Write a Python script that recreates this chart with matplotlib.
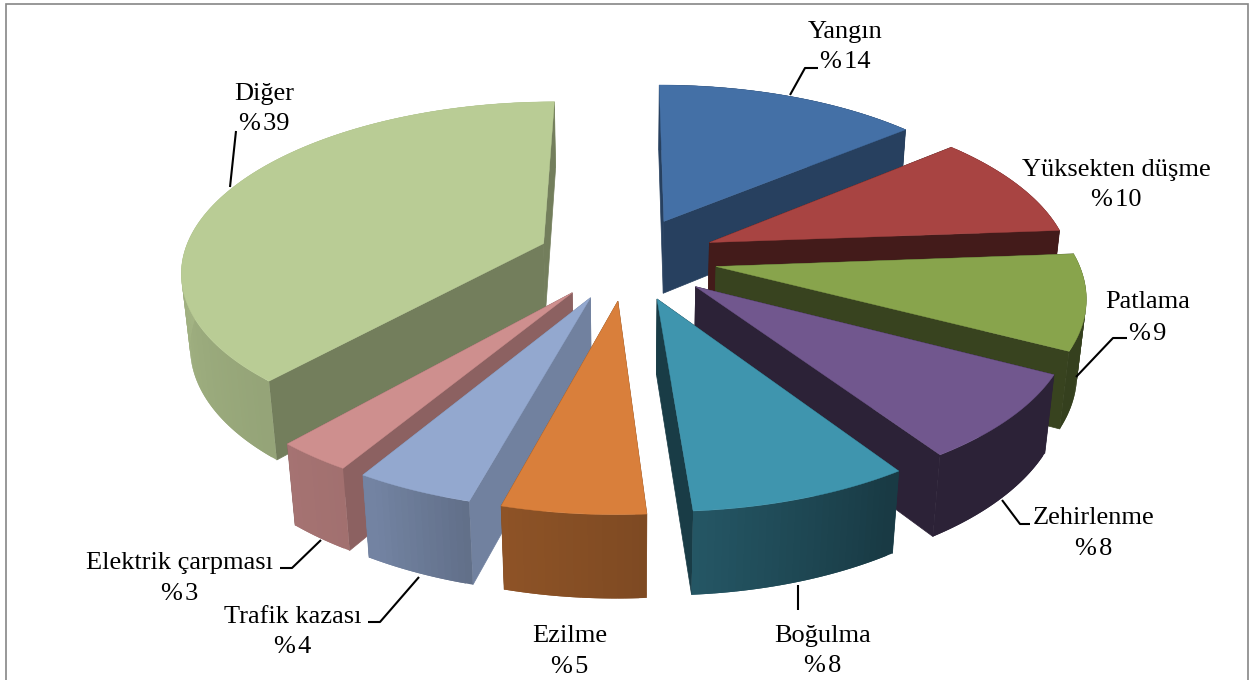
#!/usr/bin/env python3
# -*- coding: utf-8 -*-
import numpy as np
import matplotlib
matplotlib.use("Agg")
import matplotlib.pyplot as plt
from matplotlib.colors import to_rgb
from matplotlib.patches import Polygon, Rectangle

categories = ["Yangın", "Yüksekten düşme", "Patlama", "Zehirlenme", "Boğulma",
              "Ezilme", "Trafik kazası", "Elektrik çarpması", "Diğer"]
# slice sizes, the labels show them rounded
values = [13.9, 9.9, 8.9, 8, 8.2, 5.3, 4.4, 2.85, 38.55]

colors = ["#4470a6", "#a84442", "#88a44c", "#71578e", "#3f95ae",
          "#d97f3b", "#93a8cf", "#ce8f8e", "#b9cc95"]
cut_shade = [0.57, 0.40, 0.41, 0.39, 0.40, 0.60, 0.77, 0.68, 0.62]

# label centres, pixels: x, y of name, y of percent
label_pos = [(845, 32, 62), (1116, 170, 200), (1148, 302, 334), (1094, 518, 549),
             (823, 636, 666), (570, 636, 667), (293, 617, 647), (180, 563, 594),
             (264, 94, 124)]
leaders = [[(790, 95), (805, 68), (818, 68)],
           [(1076, 377), (1113, 338), (1127, 338)],
           [(1002, 500), (1020, 524), (1030, 524)],
           [(798, 585), (798, 610)],
           [(419, 577), (380, 622), (368, 622)],
           [(321, 540), (292, 568), (280, 568)],
           [(230, 187), (236, 131)]]

# projection of the tilted pie
cx, cy = 627, 258
rx, ry = 361, 167
height = 75
k_y, k_z = 0.15, 0.02
explode = 0.25


def project(x, y, z):
    s = 1 / (1 + k_y * y - k_z * z)
    return np.column_stack([cx + rx * x * s, cy - s * (ry * y + height * z)])


def wall_shade(t):
    return np.interp(t, [90, 148, 176, 194, 209, 220, 280],
                     [0.39, 0.39, 0.58, 0.65, 0.78, 0.80, 0.90])


def shaded(color, f):
    return tuple(c * f for c in to_rgb(color))


def draw_strips(ax, col, t, arc_x, arc_y, keep):
    # each strip runs under the next one so no seams show
    for j in range(len(t) - 1):
        m = (t[j] + t[j + 1]) / 2
        if not keep(m):
            continue
        n = min(j + 2, len(t) - 1)
        xs = np.array([arc_x[j], arc_x[n], arc_x[n], arc_x[j]])
        ys = np.array([arc_y[j], arc_y[n], arc_y[n], arc_y[j]])
        zs = np.array([0, 0, -1, -1])
        c = shaded(col, wall_shade(m))
        ax.add_patch(Polygon(project(xs, ys, zs), fc=c, ec="none"))


def main():
    fig = plt.figure(figsize=(12.54, 6.8), dpi=100)
    ax = fig.add_axes([0, 0, 1, 1])
    ax.set_xlim(0, 1254)
    ax.set_ylim(680, 0)
    ax.axis("off")

    ax.add_patch(Rectangle((5.5, 3.5), 1242.5, 720, fc="white", ec="#868686", lw=1.2))

    edges = np.cumsum([0] + values) / sum(values) * 360
    slices = []
    for i in range(len(values)):
        t0, t1 = edges[i], edges[i + 1]
        mid = np.radians((t0 + t1) / 2)
        ox, oy = explode * np.sin(mid), explode * np.cos(mid)
        slices.append((np.cos(mid), i, t0, t1, ox, oy))

    # back slices first
    for _, i, t0, t1, ox, oy in sorted(slices, reverse=True):
        col = colors[i]
        t = np.linspace(t0, t1, max(int(t1 - t0) + 2, 8))
        arc_x = ox + np.sin(np.radians(t))
        arc_y = oy + np.cos(np.radians(t))

        # part of the wall that faces away
        draw_strips(ax, col, t, arc_x, arc_y, lambda m: m < 90 or m > 280)

        # cut faces
        for a in (t0, t1):
            ex = ox + np.sin(np.radians(a))
            ey = oy + np.cos(np.radians(a))
            xs = np.array([ox, ex, ex, ox])
            ys = np.array([oy, ey, ey, oy])
            zs = np.array([0, 0, -1, -1])
            c = shaded(col, cut_shade[i])
            ax.add_patch(Polygon(project(xs, ys, zs), fc=c, ec=c, lw=0.5))

        # part of the wall that faces us
        draw_strips(ax, col, t, arc_x, arc_y, lambda m: 90 <= m <= 280)

        # top face
        xs = np.concatenate([[ox], arc_x])
        ys = np.concatenate([[oy], arc_y])
        ax.add_patch(Polygon(project(xs, ys, np.zeros(len(xs))), fc=col, ec=col, lw=0.3))

    for path in leaders:
        ax.plot([p[0] for p in path], [p[1] for p in path], color="black", lw=1.5,
                solid_capstyle="butt")

    for name, val, (x, y1, y2) in zip(categories, values, label_pos):
        ax.text(x, y1, name, family="Liberation Serif", fontsize=19, ha="center", va="center")
        ax.text(x, y2, "%\u200a" + str(round(val)), family="Liberation Serif", fontsize=19,
                ha="center", va="center")

    fig.savefig("out.png", dpi=100)


if __name__ == "__main__":
    main()
